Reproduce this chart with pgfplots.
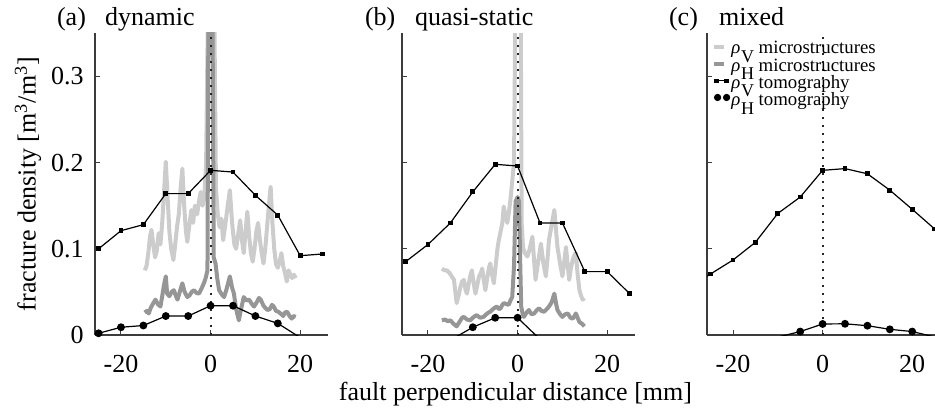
\documentclass[border=0pt]{standalone}
\usepackage{fontspec}
\setmainfont{Liberation Serif}
\usepackage{pgfplots}
\pgfplotsset{compat=1.18}

\definecolor{lightg}{RGB}{204,204,204}
\definecolor{darkg}{RGB}{150,150,150}
\definecolor{axc}{RGB}{60,60,60}

\newcommand{\sub}[1]{\raisebox{-4.3pt}[0pt][0pt]{\fontsize{9}{9}\selectfont #1}}
\newcommand{\rhoV}{\textit{ρ}\kern0.3pt\sub{V}}
\newcommand{\rhoH}{\textit{ρ}\kern0.3pt\sub{H}}

\pgfplotsset{
 panel/.style={
  scale only axis, width=116.5pt, height=151pt,
  xmin=-25.8, xmax=26.2, ymin=0, ymax=0.3503,
  axis x line*=bottom, axis y line*=left,
  xtick={-20,0,20}, ytick={0,0.1,0.2,0.3},
  tick align=inside, major tick length=2.5pt,
  tick style={axc, line width=0.5pt},
  axis line style={axc, line width=0.6pt},
  /pgf/number format/assume math mode=true,
  ticklabel style={font=\fontsize{13}{15}\selectfont},
  xticklabel style={yshift=-6.7pt},
  yticklabel style={xshift=-2.2pt},
  label style={font=\fontsize{13}{15}\selectfont},
  anchor=south west,
  clip=true,
 },
 tomoV/.style={black, line width=0.6pt, mark=square*, mark size=0.9pt},
 tomoH/.style={black, line width=0.6pt, mark=*, mark size=1.65pt},
 seg/.style={black, line width=0.6pt, no marks},
 microV/.style={lightg, line width=2pt, no marks, line join=round},
 microH/.style={darkg, line width=2pt, no marks, line join=round},
 zline/.style={black!85, line width=1pt, dash pattern=on 1pt off 3pt, no marks},
}

\begin{document}
\begin{tikzpicture}[font=\fontsize{13}{15}\selectfont]

% ---------------- (a) dynamic ----------------
\begin{axis}[panel, at={(47.5pt,39.5pt)},
  ylabel={fracture density [m\textsuperscript{3}/m\textsuperscript{3}]},
  ylabel style={at={(axis description cs:-0.2876,0.5)}, anchor=center}]
\addplot[microV] coordinates {
(-14.7,0.075) (-14.3,0.080) (-13.9,0.095) (-13.5,0.115) (-13.2,0.122) (-12.8,0.105)
(-12.4,0.090) (-12.0,0.098) (-11.6,0.118) (-11.2,0.105) (-10.8,0.130) (-10.4,0.165)
(-10.0,0.201) (-9.6,0.160) (-9.2,0.120) (-8.8,0.100) (-8.3,0.087) (-7.9,0.105)
(-7.5,0.125) (-7.1,0.140) (-6.7,0.170) (-6.3,0.193) (-5.9,0.150) (-5.5,0.120)
(-5.2,0.108) (-4.8,0.125) (-4.3,0.145) (-3.9,0.130) (-3.5,0.150) (-3.0,0.140)
(-2.6,0.155) (-2.2,0.166) (-1.8,0.150) (-1.4,0.160) (-1.0,0.200) (-0.3,0.50)
(0.6,0.50) (1.2,0.170) (1.6,0.140) (2.0,0.125) (2.4,0.135) (2.8,0.110)
(3.2,0.125) (3.7,0.145) (4.3,0.168) (4.8,0.130) (5.3,0.105) (5.7,0.100)
(6.1,0.115) (6.6,0.133) (7.0,0.110) (7.4,0.095) (7.8,0.120) (8.2,0.143)
(8.6,0.115) (9.0,0.095) (9.4,0.085) (9.8,0.100) (10.2,0.120) (10.6,0.130)
(11.0,0.110) (11.4,0.095) (11.8,0.083) (12.2,0.100) (12.6,0.125) (13.0,0.150)
(13.4,0.172) (13.8,0.130) (14.2,0.100) (14.6,0.082) (15.0,0.078) (15.4,0.085)
(15.8,0.095) (16.2,0.080) (16.6,0.072) (17.0,0.062) (17.4,0.075) (17.8,0.070)
(18.2,0.066) (18.6,0.070) (19.0,0.066)};
\addplot[microH] coordinates {
(-14.7,0.026) (-14.2,0.028) (-13.8,0.025) (-13.4,0.031) (-12.9,0.036) (-12.3,0.041)
(-11.8,0.036) (-11.2,0.033) (-10.8,0.045) (-10.4,0.058) (-10.0,0.068) (-9.7,0.048)
(-9.2,0.045) (-8.7,0.050) (-8.2,0.052) (-7.8,0.046) (-7.4,0.041) (-7.0,0.048)
(-6.6,0.055) (-6.3,0.060) (-5.8,0.050) (-5.2,0.044) (-4.7,0.046) (-4.2,0.050)
(-3.7,0.052) (-3.2,0.049) (-2.6,0.048) (-2.1,0.053) (-1.5,0.060) (-1.1,0.066)
(-0.7,0.075) (-0.4,0.50) (0.3,0.50) (0.7,0.090) (1.1,0.083) (1.5,0.065)
(1.9,0.052) (2.5,0.047) (3.0,0.044) (3.5,0.052) (4.0,0.062) (4.3,0.068)
(4.8,0.055) (5.2,0.048) (5.7,0.030) (6.3,0.017) (6.8,0.030) (7.4,0.044)
(8.0,0.040) (8.6,0.041) (9.2,0.036) (9.7,0.033) (10.3,0.038) (10.8,0.043)
(11.2,0.041) (11.8,0.034) (12.3,0.031) (12.7,0.029) (13.2,0.030) (13.7,0.035)
(14.1,0.033) (14.6,0.028) (15.1,0.027) (15.6,0.025) (16.2,0.022) (16.6,0.026)
(17.1,0.027) (17.6,0.022) (18.1,0.019) (18.5,0.022) (19.0,0.021)};
\addplot[zline] coordinates {(0,0) (0,0.3503)};
\addplot[tomoV] coordinates {
(-25,0.100) (-20,0.121) (-15,0.128) (-10,0.164) (-5,0.164) (0,0.191)
(5,0.189) (10,0.162) (15,0.139) (20,0.092) (25,0.094)};
\addplot[tomoH] coordinates {
(-25,0.002) (-20,0.009) (-15,0.011) (-10,0.022) (-5,0.022) (0,0.034)
(5,0.034) (10,0.022) (15,0.0135)};
\addplot[seg] coordinates {(15,0.0135) (20,-0.003) (25,-0.008)};
\end{axis}

% ---------------- (b) quasi-static ----------------
\begin{axis}[panel, at={(201pt,39.5pt)}, yticklabels={},
  xlabel={fault perpendicular distance [mm]},
  xlabel style={at={(axis description cs:0.5,0)}, anchor=base, yshift=-32.5pt, xshift=-1.5pt}]
\addplot[microV] coordinates {
(-16.9,0.077) (-16.3,0.075) (-15.8,0.075) (-15.2,0.072) (-14.7,0.068) (-14.2,0.064)
(-13.9,0.050) (-13.6,0.037) (-13.2,0.045) (-12.8,0.055) (-12.4,0.062) (-12.0,0.064)
(-11.6,0.052) (-11.3,0.048) (-10.9,0.060) (-10.5,0.070) (-10.2,0.075) (-9.8,0.060)
(-9.4,0.048) (-9.0,0.058) (-8.6,0.068) (-8.2,0.072) (-7.9,0.077) (-7.5,0.062)
(-7.2,0.052) (-6.8,0.065) (-6.4,0.078) (-6.1,0.083) (-5.7,0.070) (-5.3,0.060)
(-4.9,0.080) (-4.5,0.100) (-4.2,0.110) (-3.8,0.120) (-3.4,0.130) (-3.1,0.149)
(-2.7,0.138) (-2.3,0.130) (-2.0,0.140) (-1.6,0.157) (-0.8,0.20) (-0.3,0.50) (0.6,0.50)
(0.9,0.130) (1.2,0.102) (1.6,0.095) (2.2,0.091) (2.7,0.100) (3.3,0.114)
(3.7,0.085) (4.0,0.064) (4.6,0.085) (5.2,0.106) (5.7,0.085) (6.3,0.068)
(6.7,0.090) (7.0,0.110) (7.6,0.128) (8.2,0.145) (8.6,0.120) (8.9,0.102)
(9.5,0.082) (10.0,0.068) (10.4,0.085) (10.8,0.102) (11.2,0.080) (11.5,0.064)
(11.9,0.078) (12.3,0.087) (12.7,0.093) (13.0,0.095) (13.4,0.070) (13.8,0.052)
(14.2,0.045) (14.5,0.041) (14.9,0.043)};
\addplot[microH] coordinates {
(-16.9,0.017) (-16.2,0.018) (-15.6,0.016) (-15.0,0.017) (-14.3,0.013) (-13.6,0.010)
(-13.0,0.015) (-12.4,0.020) (-12.0,0.021) (-11.3,0.018) (-10.6,0.017) (-10.0,0.020)
(-9.5,0.022) (-9.1,0.023) (-8.4,0.020) (-7.6,0.021) (-7.0,0.024) (-6.5,0.026)
(-6.1,0.027) (-5.5,0.030) (-5.0,0.032) (-4.6,0.033) (-4.2,0.030) (-3.8,0.031)
(-3.4,0.035) (-3.1,0.037) (-2.6,0.036) (-2.0,0.035) (-1.6,0.040) (-1.2,0.044)
(-0.8,0.080) (-0.45,0.155) (0.0,0.160) (0.3,0.155) (0.6,0.080) (0.8,0.033)
(1.1,0.025) (1.4,0.021) (2.0,0.026) (2.5,0.029) (3.1,0.024) (3.7,0.025)
(4.3,0.029) (4.8,0.031) (5.3,0.028) (5.9,0.027) (6.5,0.030) (7.0,0.033)
(7.6,0.038) (8.2,0.048) (8.6,0.036) (8.9,0.029) (9.5,0.024) (10.0,0.021)
(10.6,0.024) (11.2,0.025) (11.8,0.020) (12.3,0.019) (12.7,0.022) (13.0,0.025)
(13.4,0.020) (13.8,0.015) (14.4,0.013) (14.9,0.010)};
\addplot[zline] coordinates {(0,0) (0,0.3503)};
\addplot[tomoV] coordinates {
(-25,0.085) (-20,0.105) (-15,0.130) (-10,0.166) (-5,0.198) (0,0.196)
(5,0.130) (10,0.130) (15,0.0735) (20,0.0735) (25,0.048)};
\addplot[seg] coordinates {(-25,-0.030) (-20,-0.020) (-15,-0.006) (-10,0.009)};
\addplot[seg] coordinates {(0,0.020) (5,-0.005) (10,-0.020) (15,-0.025) (20,-0.030) (25,-0.035)};
\addplot[tomoH] coordinates {(-10,0.009) (-5,0.020) (0,0.020)};
\end{axis}

% ---------------- (c) mixed ----------------
\begin{axis}[panel, at={(353.5pt,39.5pt)}, yticklabels={},
  legend style={at={(axis cs:-24.6,0.3407)}, anchor=north west, draw=none, fill=none,
    inner sep=0pt, outer sep=0pt, row sep=0pt, column sep=0.6pt,
    font=\fontsize{9.4}{9.4}\selectfont,
    nodes={inner sep=0pt, text height=6.3pt, text depth=2.3pt}},
  legend cell align=left]
\addlegendimage{legend image code/.code={\draw[lightg, line width=2pt] (0pt,1.3pt) -- (5pt,1.3pt);}}
\addlegendentry{\rhoV{} microstructures}
\addlegendimage{legend image code/.code={\draw[darkg, line width=2pt] (0pt,1.3pt) -- (5pt,1.3pt);}}
\addlegendentry{\rhoH{} microstructures}
\addlegendimage{legend image code/.code={\draw[black, line width=0.5pt] (0.9pt,1.7pt) -- (5.9pt,1.7pt);
  \fill[black] (0pt,0.8pt) rectangle (1.8pt,2.6pt); \fill[black] (5pt,0.8pt) rectangle (6.8pt,2.6pt);}}
\addlegendentry{\rhoV{} tomography}
\addlegendimage{legend image code/.code={\fill[black] (1.6pt,2pt) circle (1.6pt); \fill[black] (6.1pt,2pt) circle (1.6pt);}}
\addlegendentry{\rhoH{} tomography}
\addplot[zline, forget plot] coordinates {(0,0) (0,0.3503)};
\addplot[seg, forget plot] coordinates {(-30,0.055) (-25,0.0708)};
\addplot[tomoV, forget plot] coordinates {
(-25,0.0708) (-20,0.087) (-15,0.1075) (-10,0.141) (-5,0.160) (0,0.191)
(5,0.193) (10,0.187) (15,0.168) (20,0.1458) (25,0.123)};
\addplot[seg, forget plot] coordinates {(-25,-0.040) (-20,-0.030) (-15,-0.015) (-10,-0.0025) (-5,0.004)};
\addplot[seg, forget plot] coordinates {(20,0.004) (25,-0.00225) (30,-0.010)};
\addplot[tomoH, forget plot] coordinates {
(-5,0.004) (0,0.0128) (5,0.013) (10,0.0108) (15,0.0066) (20,0.004)};
\end{axis}

% panel titles
\node[anchor=base west] at (25pt,194.5pt) {(a)};
\node[anchor=base west] at (49pt,194.5pt) {dynamic};
\node[anchor=base west] at (179pt,194.5pt) {(b)};
\node[anchor=base west] at (204pt,194.5pt) {quasi-static};
\node[anchor=base west] at (331pt,194.5pt) {(c)};
\node[anchor=base west] at (356pt,194.5pt) {mixed};

\pgfresetboundingbox
\path (0pt,0pt) rectangle (467.5pt,207pt);
\end{tikzpicture}
\end{document}
